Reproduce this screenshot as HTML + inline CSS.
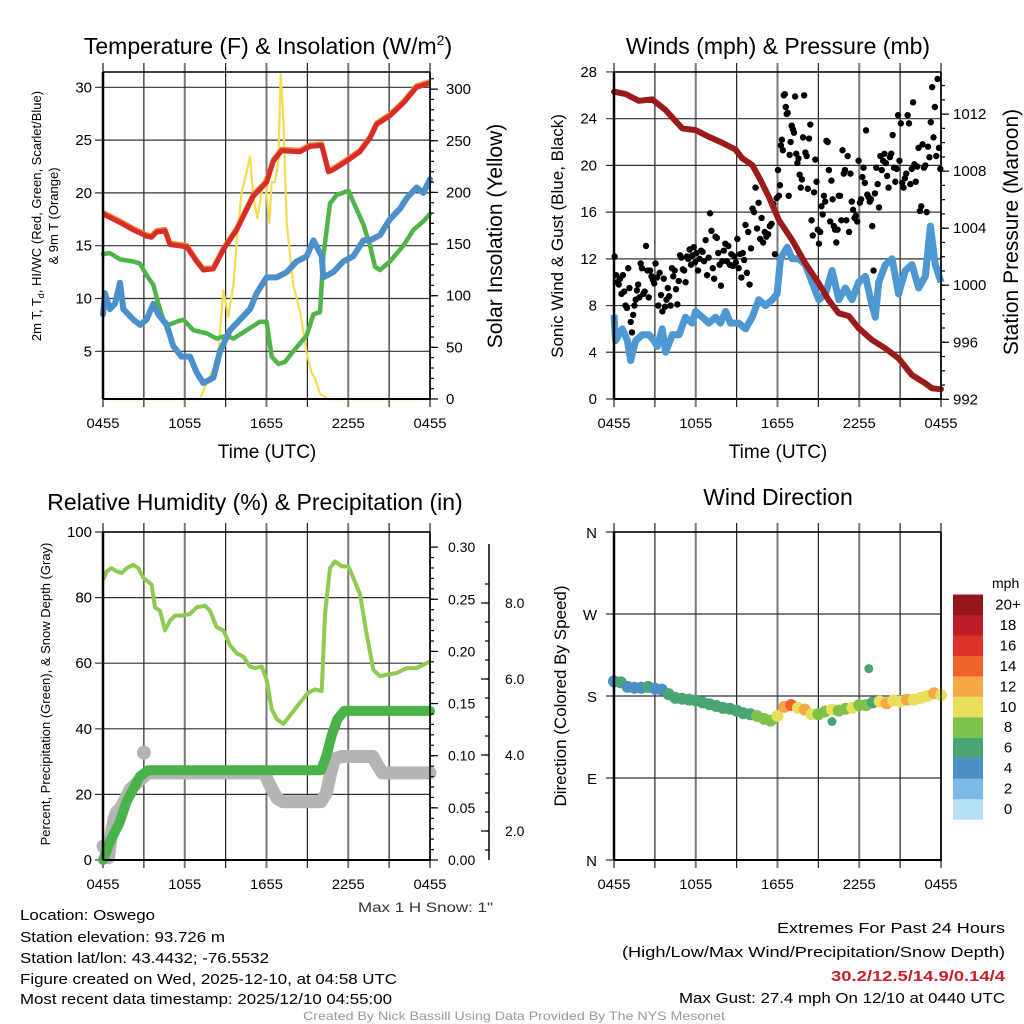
<!DOCTYPE html>
<html><head><meta charset="utf-8"><style>
html,body{margin:0;padding:0;background:#fff;}
svg{display:block;font-family:"Liberation Sans",Arial,sans-serif;}
</style></head><body>
<svg id="fig" width="1024" height="1024" viewBox="0 0 1024 1024" xmlns="http://www.w3.org/2000/svg">
<rect width="1024" height="1024" fill="#fff"/>
<g id="grids"></g>
<g id="series"></g>
<g id="axes"></g>
<g id="labels" fill="#000">
<text x="268" y="54" font-size="23" text-anchor="middle">Temperature (F) &amp; Insolation (W/m<tspan font-size="14" dy="-9">2</tspan><tspan dy="9">)</tspan></text>
<text x="778" y="54" font-size="23" text-anchor="middle">Winds (mph) &amp; Pressure (mb)</text>
<text x="255" y="510" font-size="23" text-anchor="middle">Relative Humidity (%) &amp; Precipitation (in)</text>
<text x="778" y="505" font-size="23" text-anchor="middle">Wind Direction</text>
<text x="267" y="458" font-size="19" text-anchor="middle">Time (UTC)</text>
<text x="778" y="458" font-size="19" text-anchor="middle">Time (UTC)</text>
<text transform="translate(41,216) rotate(-90)" font-size="13" text-anchor="middle">2m T, T<tspan font-size="9" dy="3">d</tspan><tspan dy="-3">, HI/WC (Red, Green, Scarlet/Blue)</tspan></text>
<text transform="translate(58,216) rotate(-90)" font-size="13" text-anchor="middle">&amp; 9m T (Orange)</text>
<text transform="translate(502,236) rotate(-90)" font-size="21" text-anchor="middle">Solar Insolation (Yellow)</text>
<text transform="translate(563,236) rotate(-90)" font-size="17" text-anchor="middle">Sonic Wind &amp; Gust (Blue, Black)</text>
<text transform="translate(1018,232) rotate(-90)" font-size="21" text-anchor="middle">Station Pressure (Maroon)</text>
<text transform="translate(50,694) rotate(-90)" font-size="13" text-anchor="middle">Percent, Precipitation (Green), &amp; Snow Depth (Gray)</text>
<text transform="translate(566,696) rotate(-90)" font-size="17" text-anchor="middle">Direction (Colored By Speed)</text>
<text x="493" y="912" font-size="14" text-anchor="end" fill="#333" textLength="135" lengthAdjust="spacingAndGlyphs">Max 1 H Snow: 1"</text>
<g font-size="15">
<text x="20" y="920" textLength="135" lengthAdjust="spacingAndGlyphs">Location: Oswego</text>
<text x="20" y="942" textLength="205" lengthAdjust="spacingAndGlyphs">Station elevation: 93.726 m</text>
<text x="20" y="963" textLength="249" lengthAdjust="spacingAndGlyphs">Station lat/lon: 43.4432; -76.5532</text>
<text x="20" y="984" textLength="377" lengthAdjust="spacingAndGlyphs">Figure created on Wed, 2025-12-10, at 04:58 UTC</text>
<text x="20" y="1004" textLength="372" lengthAdjust="spacingAndGlyphs">Most recent data timestamp: 2025/12/10 04:55:00</text>
</g>
<g font-size="15" text-anchor="end">
<text x="1005" y="933" textLength="228" lengthAdjust="spacingAndGlyphs">Extremes For Past 24 Hours</text>
<text x="1005" y="957" textLength="383" lengthAdjust="spacingAndGlyphs">(High/Low/Max Wind/Precipitation/Snow Depth)</text>
<text x="1005" y="981" fill="#c8202a" font-weight="bold" textLength="174" lengthAdjust="spacingAndGlyphs">30.2/12.5/14.9/0.14/4</text>
<text x="1005" y="1003" textLength="326" lengthAdjust="spacingAndGlyphs">Max Gust: 27.4 mph On 12/10 at 0440 UTC</text>
</g>
<text x="514" y="1020" font-size="12" fill="#999" text-anchor="middle" textLength="422" lengthAdjust="spacingAndGlyphs">Created By Nick Bassill Using Data Provided By The NYS Mesonet</text>
</g>
</svg>
<script>
// ---------- DATA ----------
const xTickLabels = ["0455","1055","1655","2255","0455"];
// Panel 1
const tempHours = [0,1.25,2.23,3.2,3.57,3.94,4.55,4.92,6.14,6.87,7.36,8.1,8.83,9.81,11.03,12.01,12.5,13.11,14.46,15.19,16.05,16.54,16.9,17.88,18.86,19.6,20.09,21.06,22.04,23.02,24];
const tempValues = [18,17.2,16.5,15.9,15.8,16.3,16.4,15.1,14.9,13.5,12.7,12.8,14.6,16.5,19.7,21,23,24,23.9,24.4,24.5,22,22.2,23,23.9,25.2,26.5,27.3,28.5,30,30.4];
const dewHours = [0,0.51,1.25,2.23,2.72,3.2,3.69,4.06,4.43,4.8,5.41,5.9,6.63,7.61,8.34,9.08,9.57,10.54,11.52,12.01,12.38,12.87,13.36,13.97,14.95,15.44,15.93,16.17,16.66,17.15,18.01,19.11,19.6,19.96,20.33,21.06,22.04,22.78,23.51,24];
const dewValues = [14.2,14.3,13.7,13.5,13.3,12.2,11.3,9.5,8,7.5,7.8,8,7,6.7,6.2,6.5,6.2,7,7.8,7.8,4.5,3.8,4,5,6.5,8.5,8.7,14,19,19.8,20.2,17,15,13,12.7,13.5,15,16.5,17.3,18];
const chillHours = [0,0.15,0.51,0.88,1.25,1.49,2.23,2.72,3.2,3.69,4.06,4.67,5.16,5.77,6.39,6.87,7.36,8.1,8.59,9.32,10.06,10.79,11.28,12.01,12.75,13.48,14.21,14.95,15.44,16.05,16.17,16.9,17.64,18.37,19.11,19.6,20.33,21.06,21.8,22.29,23.02,23.51,24];
const chillValues = [8.5,10.5,9,9.5,11.5,9,8,7.5,8,9.5,8.5,7.5,5.5,4.5,4.5,3,2,2.5,5,7,8,9,10.5,12,12,12.5,13.5,14,15.5,14,12,12.5,13.5,14,15.5,15.5,16,17.5,18.5,19.5,20.5,20,21.3];
const solarHours = [0,7.12,8.1,8.46,8.83,9.2,9.57,9.93,10.18,10.54,10.79,11.03,11.33,11.64,11.89,12.21,12.38,12.62,12.87,13.04,13.24,13.48,13.97,14.46,14.95,15.32,15.56,15.93,16.54,24];
const solarValues = [0,0,30,45,105,80,110,170,200,220,235,195,175,200,215,170,210,210,230,314,270,170,110,85,45,25,20,5,0,0];
// Panel 2
const windHours = [0,0.12,0.61,0.98,1.22,1.59,2.08,2.57,2.93,3.18,3.54,3.79,4.28,4.77,5.25,5.74,5.99,6.48,6.96,7.45,7.82,8.19,8.55,9.16,9.65,10.14,10.63,11.12,11.61,11.97,12.22,12.71,13.07,13.56,14.05,14.54,15.03,15.52,16.01,16.5,16.98,17.47,17.96,18.45,18.94,19.18,19.43,19.92,20.41,20.89,21.38,21.87,22.36,22.85,23.22,23.58,24];
const windValues = [7.2,5,6,5,3.3,5,5.5,5.5,5,4.5,6,4,5.5,5.5,7,6.5,7.5,7,6.5,7,6.5,7.5,6.5,6.5,6,7,8.5,8,8.5,9,12,13,12,12,11.5,10,8.5,9,11,8.5,9.5,8.5,10,10.5,8,7,10,11.5,12,9,11,11.5,9.5,10.5,14.8,11.5,10];
const pressHours = [0,0.86,1.83,2.81,3.79,5.01,5.99,6.96,7.94,8.92,9.41,10.14,10.63,11.36,12.1,13.07,14.05,15.03,15.76,16.5,17.23,17.96,18.94,19.92,20.89,21.87,22.85,23.34,24];
const pressValues = [1013.57,1013.4,1012.93,1013.03,1012.28,1011.0,1010.88,1010.41,1009.99,1009.52,1008.9,1008.43,1007.6,1006.2,1004.57,1003.17,1001.53,1000.13,998.96,998.03,997.84,996.98,996.16,995.57,994.87,993.7,993.12,992.77,992.7];
const gustByHour = [
 [12.2,10.6,10,9.8,10.3,9,10.6,9.2,8,7.8],
 [11.2,9.5,6.6,5.7,7.2,8,8.5,9.3,9.8,8.7,11.6],
 [11.2,9,9.2,13.1,11,8.7,11,10.5,10.2,9.9],
 [11.6,10.4,8,10.8,8.9,7.5,10.3,7.9,8.5,9.5],
 [8.8,8,11.2,10.5,11,9.4,8.1,10.1,12.3,12.1],
 [11.1,11,10,12.2,12,12.8,11.5,12.3,13,11.7],
 [12.5,11,12,12.7,12.6,11.8,13.6,10.6,12.1],
 [15.9,14.4,11.2,10.3,13.9,13.8,12.5,11.5,9.7,11.8],
 [12.7,13.3,11.8,13.1,11.5,12.4,11.4,12.2,11.7],
 [13.7,11.2,12.4,10.4,12.5,11.9,14.9,10.8,14.3,9.8],
 [12.9,16.3,16.0,18.1,14.6,16.8,13.7,15.5,13.4],
 [14.3,13.9,14.1,14.8,15.0,16.7,12.4,17.2],
 [19.6,17.4,18.3,21.7,22.2,21.3,26.0,26.1,25.0,24.4,24.5,17.4,20.9,22.0],
 [23.4,23.1,22.8,25.9,21.0,20.2,20.6,19.2,18.1,18.8,22.4,26.0],
 [21.1,20.8,18.0,22.3,23.5,15.3,14.0,17.7,20.5,18.6,14.5],
 [13.3,14.3,16.5,15.8,17.4,16.9,22.1,22.0,19.6,15.2,18.7],
 [17.1,14.8,14.5,13.4,14.5,17.4,17.4,15.3,21.3,19.3,19.6],
 [15.3,20.8,14.3,19.3,16.9,16.2,15.5,15.7,15.2,20.4],
 [16.8,17.1,19.0,19.8,18.5,23.0,17.5,17.3,16.9,17.1,14.8],
 [11.0,17.6,19.8,18.4,16.4,20.8,19.6,20.4,21.0,20.2],
 [19.1,18.1,20.7,21.0,22.6,19.8,18.6,19.7,24.3,20.4],
 [23.6,18.5,18.1,18.9,19.3,24.3,23.6,18.4,19.7,25.4],
 [20.1,18.6,19.9,21.5,16.1,16.5,21.8,19.8,20.0,16.0],
 [21.6,20.7,23.7,26.7,22.4,25.0,20.8,27.4,21.5,19.7]
];
// Panel 3
const rhHours = [0,0.27,0.64,1.0,1.37,1.74,2.23,2.59,2.96,3.57,3.82,4.18,4.55,4.92,5.28,5.77,6.39,6.87,7.49,7.85,8.34,8.83,9.32,9.81,10.3,10.79,11.16,11.65,12.01,12.38,12.75,13.24,13.72,14.46,15.07,15.56,16.05,16.29,16.66,17.03,17.52,18.01,18.37,18.86,19.35,19.84,20.33,20.82,21.55,22.29,23.02,24];
const rhValues = [85.5,88,89,88,87.5,89,90,89,86,84,77,76,70,73,74.5,74.5,75,77,77.5,76,71,70,65.5,63,62,59,58.5,59,55,46,43,41.5,44,48,51,52,51.5,75,89,91,89.5,89.5,86,81,69,58,56,56.5,57,58.5,58.5,60.5];
const precipHours = [0,0.3,0.6,1.2,1.7,2.3,2.7,3.3,16.0,16.4,16.8,17.2,17.7,24];
const precipValues = [0,0.01,0.02,0.035,0.055,0.07,0.08,0.086,0.086,0.1,0.12,0.135,0.143,0.143];
const snowHours = [0,0.2,0.4,0.6,0.8,1.0,1.3,2.0,3.3,11.8,12.0,12.4,12.8,13.2,16.0,16.4,16.7,17.0,17.5,19.8,20.2,20.5,24];
const snowValues = [1.6,1.5,1.3,1.9,2.3,2.5,2.6,3.1,3.53,3.53,3.4,3.1,2.85,2.77,2.77,3.0,3.5,3.9,3.96,3.96,3.7,3.53,3.53];
const snowOutlierHour = 3.0, snowOutlierValue = 4.06;
// Panel 4 (samples every half hour)
const dirValues = [196,195,190,189,189,190,188,187,182,178,177,176,175,173,171,169,167,166,164,161,160,158,155,153,158,168,170,167,165,160,160,163,165,164,166,167,170,170,173,174,172,175,174,176,176,178,180,183,181];
const dirSpeeds = [5,6,5,5,5,6,5,5,6,6,6,7,7,7,7,6.5,7,6,7,7,7,8,8,8.5,10,12,14,11,12,10,8,9,10,9,8,10,9,8,7,11,12,10,11,12,10,10,11,13,11];
const dirOutlierHours = [18.7,16.0];
const dirOutlierValues = [210,152];
const dirOutlierSpeeds = [6,6];
const speedColors = ["#b5e2f6","#7db9e2","#4a8fc6","#49a573","#7dc24b","#e8e05a","#f5a845","#ef622b","#dc3228","#bd1d27","#931618"];
const speedLabels = ["0","2","4","6","8","10","12","14","16","18","20+"];

// ---------- HELPERS ----------
const NS="http://www.w3.org/2000/svg";
function mk(tag,attrs,parent){const e=document.createElementNS(NS,tag);for(const k in attrs)e.setAttribute(k,attrs[k]);(parent||document.getElementById('series')).appendChild(e);return e;}
const gG=document.getElementById('grids'), gA=document.getElementById('axes'), gS=document.getElementById('series');
function xs(x0,x1){return h=>x0+(x1-x0)*h/24;}
function pathFrom(hs,vs,sx,sy){return hs.map((h,i)=>(i?'L':'M')+sx(h).toFixed(1)+','+sy(vs[i]).toFixed(1)).join('');}

function panelFrame(name,x0,x1,yT,yB,hLines){
  const g=mk('g',{},gG);
  
  
  for(let k=0;k<=8;k++){const x=x0+(x1-x0)*k/8;const major=k%2===0;
    mk('line',{x1:x,x2:x,y1:yT-9,y2:yB+8,stroke:major?'#7a7a7a':'#222','stroke-width':major?2:1.2},g);}
  hLines.forEach(y=>mk('line',{x1:x0-8,x2:x1,y1:y,y2:y,stroke:'#333','stroke-width':1.2},g));
  const f=mk('g',{},gA);
  
  
  mk('line',{x1:x0,x2:x0,y1:yT,y2:yB,stroke:'#000','stroke-width':2.5},f);
  mk('line',{x1:x0,x2:x1,y1:yT,y2:yT,stroke:'#000','stroke-width':1.5},f);
  mk('line',{x1:x0,x2:x1+1,y1:yB,y2:yB,stroke:'#000','stroke-width':2},f);
  mk('line',{x1:x1,x2:x1,y1:yT,y2:yB,stroke:'#000','stroke-width':1.5},f);
  xTickLabels.forEach((t,k)=>{const tx=mk('text',{x:x0+(x1-x0)*k/4,y:yB+29,'font-size':14,'text-anchor':'middle',textLength:33,lengthAdjust:'spacingAndGlyphs'},f);tx.textContent=t;
    
    });
}
function yLabels(name,vals,fmt,sy,x,anchor,size){
  vals.forEach(v=>{const t=mk('text',{x:x,y:sy(v)+5,'font-size':size||15,'text-anchor':anchor},gA);t.textContent=fmt(v);
    
    });
}
function rightTicks(xr,vals,sy,len){vals.forEach(v=>mk('line',{x1:xr,x2:xr+len,y1:sy(v),y2:sy(v),stroke:'#000','stroke-width':1.2},gA));}

// ---------- PANEL 1 ----------
{
 const sx=xs(103,430), yL=v=>351.3-(v-5)*10.56, yR=v=>399-v*1.033;
 panelFrame('temp-chart',103,430,72,399,[5,10,15,20,25,30].map(yL));
 yLabels('temp-y-tick-label',[5,10,15,20,25,30],v=>v,yL,92,'end');
 yLabels('solar-y-tick-label',[0,50,100,150,200,250,300],v=>v,yR,446,'start');
 rightTicks(430,[0,50,100,150,200,250,300],yR,8);
 const minorR=[];for(let v=10;v<=310;v+=10)minorR.push(v);rightTicks(430,minorR,yR,4);
 let p=mk('path',{d:pathFrom(solarHours,solarValues,sx,yR),fill:'none',stroke:'#f5dc50','stroke-width':2.2,'stroke-linejoin':'round'});
 
 
 p=mk('path',{d:pathFrom(dewHours,dewValues,sx,yL),fill:'none',stroke:'#4fb547','stroke-width':4.5,'stroke-linejoin':'round','stroke-linecap':'round'});
 
 
 p=mk('path',{d:pathFrom(chillHours,chillValues,sx,yL),fill:'none',stroke:'#4b8fcb','stroke-width':6,'stroke-linejoin':'round','stroke-linecap':'round'});
 
 
 p=mk('path',{d:pathFrom(tempHours,tempValues,sx,v=>yL(v)-1.5),fill:'none',stroke:'#f08a32','stroke-width':5,'stroke-linejoin':'round'});
 
 
 p=mk('path',{d:pathFrom(tempHours,tempValues,sx,yL),fill:'none',stroke:'#d92b27','stroke-width':5,'stroke-linejoin':'round'});
 
 
}
// ---------- PANEL 2 ----------
{
 const sx=xs(614,941), yL=v=>399-v*11.68, yR=p=>399.3-(p-992)*14.26;
 panelFrame('wind-chart',614,941,72,399,[0,4,8,12,16,20,24,28].map(yL));
 yLabels('wind-y-tick-label',[0,4,8,12,16,20,24,28],v=>v,yL,597,'end');
 yLabels('pressure-y-tick-label',[992,996,1000,1004,1008,1012],v=>v,yR,953,'start');
 rightTicks(941,[992,996,1000,1004,1008,1012],yR,8);
 const minor=[];for(let v=993;v<=1014;v++)minor.push(v);rightTicks(941,minor,yR,4);
 let p=mk('path',{d:pathFrom(windHours,windValues,sx,yL),fill:'none',stroke:'#4d97d3','stroke-width':7,'stroke-linejoin':'round'});
 
 
 gustByHour.forEach((arr,h)=>arr.forEach((v,i)=>{
   const c=mk('circle',{cx:sx(h+(i+0.5)/arr.length),cy:yL(v),r:3.2,fill:'#000'});
   
   
 }));
 p=mk('path',{d:pathFrom(pressHours,pressValues,sx,yR),fill:'none',stroke:'#9b1b1b','stroke-width':6,'stroke-linejoin':'round','stroke-linecap':'round'});
 
 
}
// ---------- PANEL 3 ----------
{
 const sx=xs(103,430), yL=v=>860-v*3.28, yP=v=>860-v*1043, yS=v=>831-(v-2)*38;
 panelFrame('rh-chart',103,430,532,860,[0,20,40,60,80,100].map(yL));
 yLabels('rh-y-tick-label',[0,20,40,60,80,100],v=>v,yL,92,'end');
 yLabels('precip-y-tick-label',[0,0.05,0.1,0.15,0.2,0.25,0.3],v=>v.toFixed(2),yP,448,'start',14);
 rightTicks(430,[0,0.05,0.1,0.15,0.2,0.25,0.3],yP,8);
 const mp=[];for(let v=0.01;v<0.31;v+=0.01)mp.push(v);rightTicks(430,mp,yP,4);
 mk('line',{x1:489,x2:489,y1:544,y2:860,stroke:'#000','stroke-width':1.5},gA);
 rightTicks(489,[2,4,6,8],yS,-8);
 const ms=[];for(let v=1.5;v<=8.6;v+=0.5)ms.push(v);rightTicks(489,ms,yS,-4);
 yLabels('snow-y-tick-label',[2,4,6,8],v=>v.toFixed(1),yS,505,'start',14);
 let p=mk('path',{d:pathFrom(snowHours,snowValues,sx,yS),fill:'none',stroke:'#b4b4b4','stroke-width':13,'stroke-linejoin':'round','stroke-linecap':'round'});
 
 
 const c=mk('circle',{cx:sx(snowOutlierHour),cy:yS(snowOutlierValue),r:7,fill:'#b4b4b4'});
 
 
 p=mk('path',{d:pathFrom(rhHours,rhValues,sx,yL),fill:'none',stroke:'#8fcb51','stroke-width':4,'stroke-linejoin':'round'});
 
 
 p=mk('path',{d:pathFrom(precipHours,precipValues,sx,yP),fill:'none',stroke:'#49b34a','stroke-width':10,'stroke-linejoin':'round','stroke-linecap':'round'});
 
 
}
// ---------- PANEL 4 ----------
{
 const sx=xs(614,941), yD=d=>860-d*328/360;
 panelFrame('direction-chart',614,941,532,860,[0,90,180,270,360].map(yD));
 const dl=['N','E','S','W','N'];
 [0,90,180,270,360].forEach((d,i)=>{const t=mk('text',{x:597,y:yD(d)+6,'font-size':15,'text-anchor':'end'},gA);t.textContent=dl[i];
   
   });
 const col=s=>speedColors[Math.min(10,Math.floor(s/2))];
 dirValues.forEach((d,i)=>{const c=mk('circle',{cx:sx(i*0.5),cy:yD(d),r:6,fill:col(dirSpeeds[i])});
   
   });
 dirOutlierHours.forEach((h,i)=>{const c=mk('circle',{cx:sx(h),cy:yD(dirOutlierValues[i]),r:4.5,fill:col(dirOutlierSpeeds[i])});
   
   });
 const lg=mk('g',{},gA);
 
 
 const t=mk('text',{x:992,y:588,'font-size':14},lg);t.textContent='mph';
 speedColors.forEach((c,i)=>{const y=799-i*20.45;
   mk('rect',{x:953,y:y,width:30,height:20.6,fill:c},lg);
   const tx=mk('text',{x:1008,y:y+15,'font-size':15,'text-anchor':'middle'},lg);tx.textContent=speedLabels[i];});
}
</script>
</body></html>
